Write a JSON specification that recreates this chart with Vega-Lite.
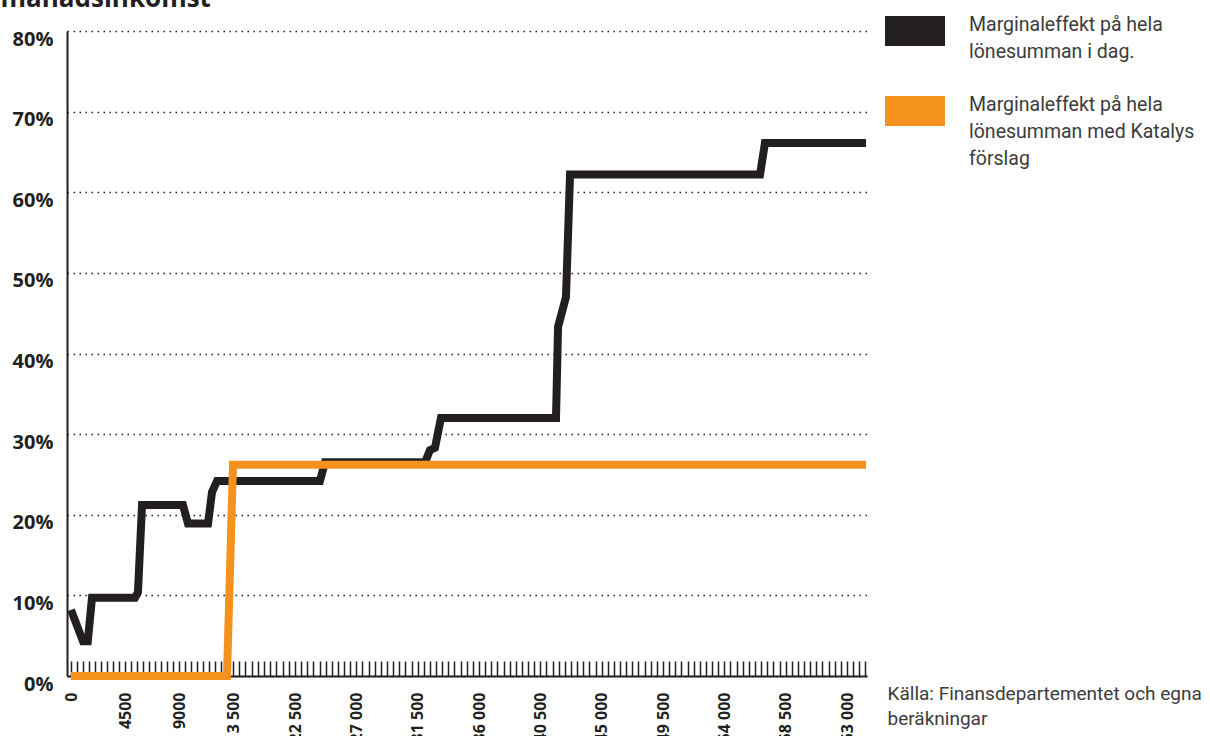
{
  "$schema": "https://vega.github.io/schema/vega-lite/v6.json",
  "autosize": "none",
  "width": 800,
  "height": 645,
  "padding": {"left": 67, "top": 31, "right": 343, "bottom": 60},
  "background": "white",
  "data": {
    "values": [
      {"inkomst": 0, "andel": 0.082, "serie": "Marginaleffekt på hela lönesumman i dag."},
      {"inkomst": 1000, "andel": 0.043, "serie": "Marginaleffekt på hela lönesumman i dag."},
      {"inkomst": 1400, "andel": 0.043, "serie": "Marginaleffekt på hela lönesumman i dag."},
      {"inkomst": 1750, "andel": 0.097, "serie": "Marginaleffekt på hela lönesumman i dag."},
      {"inkomst": 5330, "andel": 0.097, "serie": "Marginaleffekt på hela lönesumman i dag."},
      {"inkomst": 5580, "andel": 0.104, "serie": "Marginaleffekt på hela lönesumman i dag."},
      {"inkomst": 5920, "andel": 0.212, "serie": "Marginaleffekt på hela lönesumman i dag."},
      {"inkomst": 9330, "andel": 0.212, "serie": "Marginaleffekt på hela lönesumman i dag."},
      {"inkomst": 9750, "andel": 0.189, "serie": "Marginaleffekt på hela lönesumman i dag."},
      {"inkomst": 11420, "andel": 0.189, "serie": "Marginaleffekt på hela lönesumman i dag."},
      {"inkomst": 11750, "andel": 0.228, "serie": "Marginaleffekt på hela lönesumman i dag."},
      {"inkomst": 12170, "andel": 0.242, "serie": "Marginaleffekt på hela lönesumman i dag."},
      {"inkomst": 24330, "andel": 0.242, "serie": "Marginaleffekt på hela lönesumman i dag."},
      {"inkomst": 24700, "andel": 0.265, "serie": "Marginaleffekt på hela lönesumman i dag."},
      {"inkomst": 32040, "andel": 0.265, "serie": "Marginaleffekt på hela lönesumman i dag."},
      {"inkomst": 32400, "andel": 0.28, "serie": "Marginaleffekt på hela lönesumman i dag."},
      {"inkomst": 32770, "andel": 0.283, "serie": "Marginaleffekt på hela lönesumman i dag."},
      {"inkomst": 33210, "andel": 0.32, "serie": "Marginaleffekt på hela lönesumman i dag."},
      {"inkomst": 41650, "andel": 0.32, "serie": "Marginaleffekt på hela lönesumman i dag."},
      {"inkomst": 41800, "andel": 0.433, "serie": "Marginaleffekt på hela lönesumman i dag."},
      {"inkomst": 42380, "andel": 0.47, "serie": "Marginaleffekt på hela lönesumman i dag."},
      {"inkomst": 42680, "andel": 0.622, "serie": "Marginaleffekt på hela lönesumman i dag."},
      {"inkomst": 56620, "andel": 0.622, "serie": "Marginaleffekt på hela lönesumman i dag."},
      {"inkomst": 56980, "andel": 0.661, "serie": "Marginaleffekt på hela lönesumman i dag."},
      {"inkomst": 64400, "andel": 0.661, "serie": "Marginaleffekt på hela lönesumman i dag."},
      {"inkomst": 0, "andel": 0, "serie": "Marginaleffekt på hela lönesumman med Katalys förslag"},
      {"inkomst": 13000, "andel": 0, "serie": "Marginaleffekt på hela lönesumman med Katalys förslag"},
      {"inkomst": 13500, "andel": 0.262, "serie": "Marginaleffekt på hela lönesumman med Katalys förslag"},
      {"inkomst": 64400, "andel": 0.262, "serie": "Marginaleffekt på hela lönesumman med Katalys förslag"}
    ]
  },
  "encoding": {
    "x": {
      "field": "inkomst",
      "type": "quantitative",
      "scale": {
        "domain": [-330, 0, 13500, 22500, 63000, 64470],
        "range": [0, 4, 166, 228, 780, 800],
        "nice": false,
        "zero": false
      },
      "axis": {
        "values": [0,500,1000,1500,2000,2500,3000,3500,4000,4500,5000,5500,6000,6500,7000,7500,8000,8500,9000,9500,10000,10500,11000,11500,12000,12500,13000,13500,14400,15300,16200,17100,18000,18900,19800,20700,21600,22500,22950,23400,23850,24300,24750,25200,25650,26100,26550,27000,27450,27900,28350,28800,29250,29700,30150,30600,31050,31500,31950,32400,32850,33300,33750,34200,34650,35100,35550,36000,36450,36900,37350,37800,38250,38700,39150,39600,40050,40500,40950,41400,41850,42300,42750,43200,43650,44100,44550,45000,45450,45900,46350,46800,47250,47700,48150,48600,49050,49500,49950,50400,50850,51300,51750,52200,52650,53100,53550,54000,54450,54900,55350,55800,56250,56700,57150,57600,58050,58500,58950,59400,59850,60300,60750,61200,61650,62100,62550,63000,63450,63900,64350],
        "labelExpr": "(datum.value % 4500 == 0 && datum.value != 18000) ? (datum.value >= 10000 ? replace(format(datum.value, ','), ',', ' ') : format(datum.value, 'd')) : ''",
        "labelAngle": -90,
        "labelOverlap": false,
        "labelFlush": false,
        "labelFont": "Open Sans",
        "labelFontWeight": "bold",
        "labelFontSize": 16,
        "labelColor": "#231f20",
        "labelPadding": 31,
        "tickSize": -15,
        "tickColor": "#231f20",
        "tickWidth": 1.5,
        "domainColor": "#231f20",
        "domainWidth": 2,
        "grid": false,
        "title": ["Källa: Finansdepartementet och egna", "beräkningar"],
        "titleX": 820,
        "titleY": 23,
        "titleAlign": "left",
        "titleBaseline": "alphabetic",
        "titleAngle": 0,
        "titleFont": "Roboto",
        "titleFontSize": 19,
        "titleFontWeight": "normal",
        "titleColor": "#3c3c3c",
        "titleLineHeight": 25
      }
    },
    "y": {
      "field": "andel",
      "type": "quantitative",
      "scale": {"domain": [0, 0.8], "nice": false},
      "axis": {
        "values": [0, 0.1, 0.2, 0.3, 0.4, 0.5, 0.6, 0.7, 0.8],
        "format": ".0%",
        "ticks": false,
        "grid": true,
        "gridDash": [1.5, 4.5],
        "gridColor": "#231f20",
        "gridWidth": 1.5,
        "domainColor": "#231f20",
        "domainWidth": 2,
        "labelFont": "Open Sans",
        "labelFontWeight": "bold",
        "labelFontSize": 20,
        "labelColor": "#231f20",
        "labelPadding": 14,
        "labelOffset": 8,
        "title": "månadsinkomst",
        "titleX": -67,
        "titleY": -25,
        "titleAngle": 0,
        "titleAlign": "left",
        "titleBaseline": "alphabetic",
        "titleFont": "Open Sans",
        "titleFontWeight": "bold",
        "titleFontSize": 26,
        "titleColor": "#231f20"
      }
    }
  },
  "layer": [
    {
      "transform": [{"filter": "datum.serie == 'Marginaleffekt på hela lönesumman i dag.'"}],
      "mark": {"type": "line", "strokeWidth": 8, "strokeJoin": "miter", "strokeCap": "butt"},
      "encoding": {
        "color": {
          "field": "serie",
          "type": "nominal",
          "scale": {
            "domain": ["Marginaleffekt på hela lönesumman i dag."],
            "range": ["#231f20"]
          },
          "legend": {
            "orient": "none",
            "legendX": 818,
            "legendY": -30,
            "title": null,
            "padding": 0,
            "symbolType": "M-2,0H2",
            "symbolSize": 900,
            "symbolStrokeWidth": 30,
            "labelFont": "Roboto",
            "labelFontSize": 19.5,
            "labelColor": "#3c3c3c",
            "labelOffset": 24,
            "labelBaseline": "alphabetic",
            "labelLimit": 400,
            "labelExpr": "['Marginaleffekt på hela', 'lönesumman i dag.']"
          }
        }
      }
    },
    {
      "transform": [{"filter": "datum.serie == 'Marginaleffekt på hela lönesumman med Katalys förslag'"}],
      "mark": {"type": "line", "strokeWidth": 8, "strokeJoin": "miter", "strokeCap": "butt"},
      "encoding": {
        "color": {
          "field": "serie",
          "type": "nominal",
          "scale": {
            "domain": ["Marginaleffekt på hela lönesumman med Katalys förslag"],
            "range": ["#f5921e"]
          },
          "legend": {
            "orient": "none",
            "legendX": 818,
            "legendY": 50,
            "title": null,
            "padding": 0,
            "symbolType": "M-2,0H2",
            "symbolSize": 900,
            "symbolStrokeWidth": 30,
            "labelFont": "Roboto",
            "labelFontSize": 19.5,
            "labelColor": "#3c3c3c",
            "labelOffset": 24,
            "labelBaseline": "alphabetic",
            "labelLimit": 400,
            "labelExpr": "['Marginaleffekt på hela', 'lönesumman med Katalys', 'förslag']"
          }
        }
      }
    }
  ],
  "resolve": {"scale": {"color": "independent"}},
  "config": {
    "view": {"stroke": null},
    "style": {"guide-label": {"lineHeight": 27}}
  }
}
